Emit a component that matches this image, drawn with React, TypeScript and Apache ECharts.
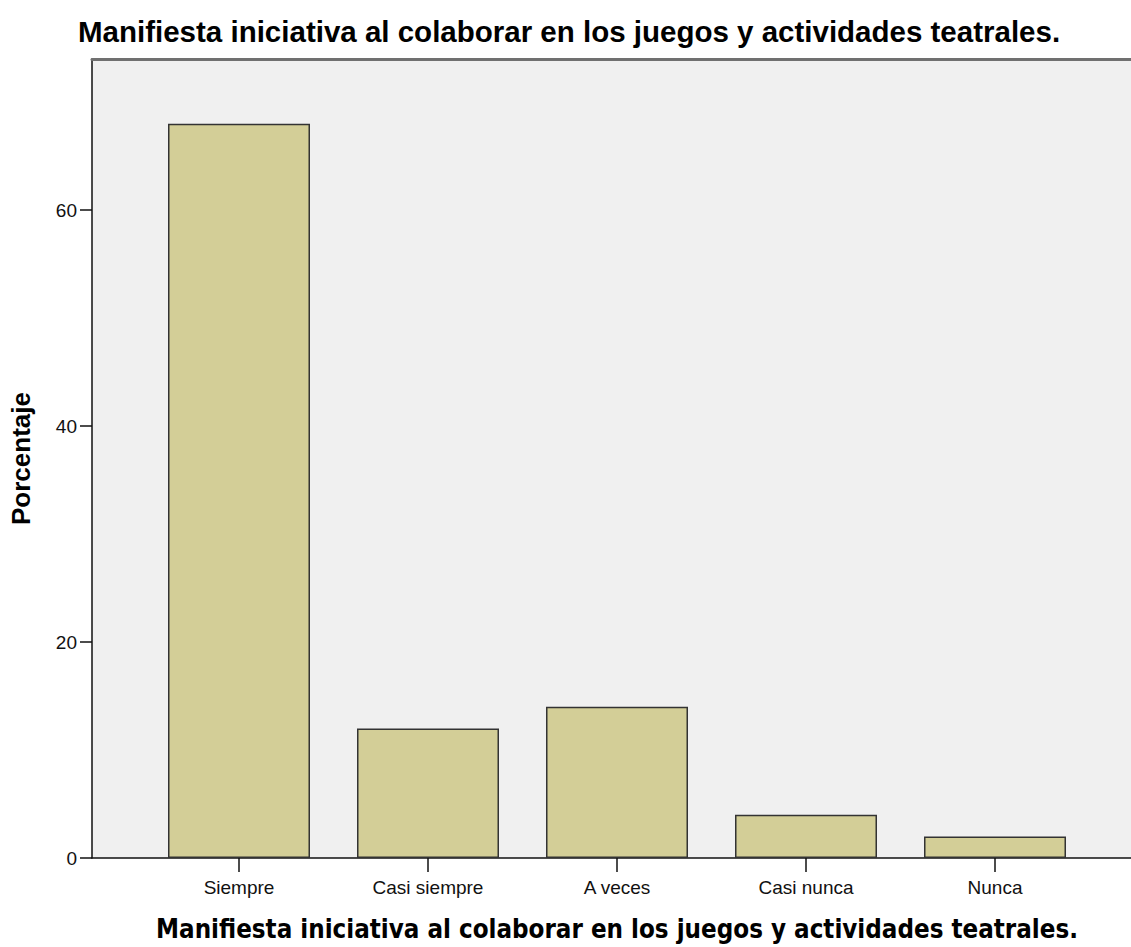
import React, { useEffect, useRef } from "react";
import * as echarts from "echarts";

const chartTitle = "Manifiesta iniciativa al colaborar en los juegos y actividades teatrales.";
const xAxisTitle = "Manifiesta iniciativa al colaborar en los juegos y actividades teatrales.";
const yAxisTitle = "Porcentaje";
const categories = ["Siempre", "Casi siempre", "A veces", "Casi nunca", "Nunca"];
const percentages = [68, 12, 14, 4, 2];

export default function App() {
  const ref = useRef<HTMLDivElement>(null);
  useEffect(() => {
    document.body.style.margin = "0";
    if (!ref.current) return;
    const chart = echarts.init(ref.current, undefined, { renderer: "svg" });
    const sans = "'Liberation Sans', Arial, sans-serif";
    chart.setOption({
      animation: false,
      backgroundColor: "#ffffff",
      title: {
        text: chartTitle,
        left: 78,
        top: 16,
        padding: 0,
        textStyle: { fontFamily: sans, fontWeight: "bold", fontSize: 29.5, color: "#000" },
      },
      grid: [
        { left: 92, top: 59, width: 1060, height: 799, show: true, backgroundColor: "#f0f0f0", borderWidth: 0 },
        { left: 144.5, top: 59, width: 945, height: 799 },
      ],
      xAxis: [
        {
          gridIndex: 0, type: "value", min: 0, max: 1, position: "bottom",
          axisLine: { show: true, lineStyle: { color: "#111", width: 1.5 } },
          axisTick: { show: false }, axisLabel: { show: false }, splitLine: { show: false },
        },
        {
          gridIndex: 0, type: "value", min: 0, max: 1, position: "top",
          axisLine: { show: true, lineStyle: { color: "#707070", width: 3 } },
          axisTick: { show: false }, axisLabel: { show: false }, splitLine: { show: false },
        },
        {
          gridIndex: 1, type: "category", data: categories, position: "bottom",
          axisLine: { show: false },
          axisTick: { show: true, alignWithLabel: true, length: 14, lineStyle: { color: "#111", width: 1.5 } },
          axisLabel: { fontFamily: sans, fontSize: 19, color: "#111", margin: 20 },
          name: xAxisTitle,
          nameLocation: "middle",
          nameGap: 58,
          nameTextStyle: { fontFamily: "'DejaVu Sans Condensed', 'DejaVu Sans', sans-serif", fontWeight: "bold", fontSize: 25.7, color: "#000" },
        },
      ],
      yAxis: [
        {
          gridIndex: 0, type: "value", min: 0, max: 74, interval: 20,
          axisLine: { show: true, lineStyle: { color: "#111", width: 1.5 } },
          axisTick: { show: true, length: 12, lineStyle: { color: "#111", width: 1.5 } },
          axisLabel: { fontFamily: sans, fontSize: 19, color: "#111", margin: 15, showMaxLabel: false },
          splitLine: { show: false },
          name: yAxisTitle,
          nameLocation: "middle",
          nameGap: 58,
          nameTextStyle: { fontFamily: sans, fontWeight: "bold", fontSize: 26, color: "#000" },
        },
        { gridIndex: 1, type: "value", min: 0, max: 74, show: false },
      ],
      series: [
        {
          type: "bar",
          xAxisIndex: 2,
          yAxisIndex: 1,
          data: percentages,
          barWidth: 142,
          itemStyle: { color: "#d3ce97", borderColor: "#333", borderWidth: 1.5 },
        },
      ],
    });
    return () => chart.dispose();
  }, []);
  return <div ref={ref} style={{ width: 1131, height: 947 }} />;
}
